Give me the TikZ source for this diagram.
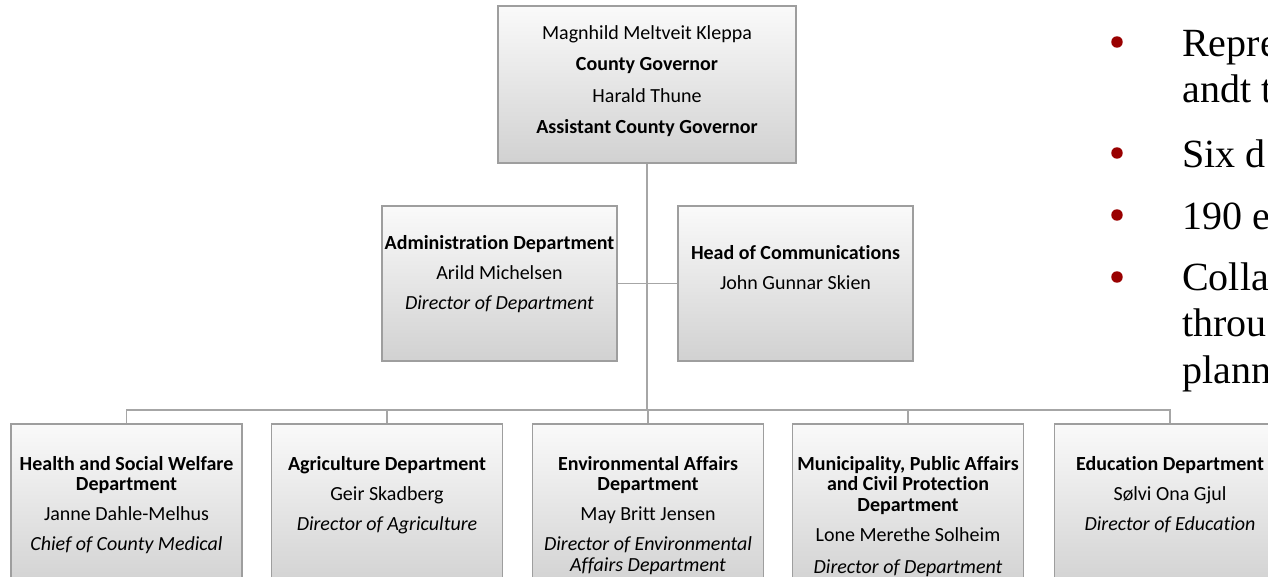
\documentclass[tikz,border=0pt]{standalone}
\usepackage{fontspec}
\setmainfont{Carlito}[Ligatures=NoCommon]
\newfontfamily\slidefont{Liberation Serif}
\definecolor{bulletred}{HTML}{990000}
\newlength{\pxu}
\setlength{\pxu}{0.75pt}
\tikzset{
  box/.style={rectangle, draw=black!38, line width=1.1pt,
    top color=black!2, bottom color=black!18, inner sep=0pt},
  link/.style={draw=black!35, line width=1.4pt},
  txt/.style={anchor=north, align=center, inner sep=0pt,
    font=\fontsize{15}{15.4}\selectfont},
  slide/.style={anchor=base west, inner sep=0pt,
    font=\slidefont\fontsize{30}{34.5}\selectfont}
}

\begin{document}
\begin{tikzpicture}[x=0.75pt, y=-0.75pt]
  \useasboundingbox (0,0) rectangle (1268,577);
  \clip (0,0) rectangle (1268,577);
  % boxes
  \node[box, minimum width=298\pxu, minimum height=157\pxu] at (647,84.5) (gov) {};
  \node[box, minimum width=235\pxu, minimum height=155\pxu] at (499.5,283.5) (admin) {};
  \node[box, minimum width=235\pxu, minimum height=155\pxu] at (795.5,283.5) (comm) {};
  \foreach \n/\x in {health/126.5, agri/387, env/648, muni/908, edu/1170}
    \node[box, minimum width=231\pxu, minimum height=165\pxu] at (\x,506.5) (\n) {};
  % lines
  \coordinate (bus) at (gov.south |- 0,410);
  \draw[link] (gov.south) -- (bus);
  \draw[link] (admin) -- (comm);
  \foreach \n in {health,agri,env,muni,edu}
    \draw[link] (bus) -| (\n.north);
  % texts
  \node[txt] at (647,25) (govtxt) {Magnhild Meltveit Kleppa\\[8.2pt]\textbf{County Governor}\\[8.2pt]Harald Thune\\[8.2pt]\textbf{Assistant County Governor}};
  \node[txt] at (499.5,235) (admintxt) {\textbf{Administration Department}\\[7.1pt]Arild Michelsen\\[7.1pt]\textit{Director of Department}};
  \node[txt] at (795.5,245) (commtxt) {\textbf{Head of Communications}\\[7.1pt]John Gunnar Skien};
  \node[txt] at (126.5,456) (healthtxt) {\textbf{Health and Social Welfare}\\\textbf{Department}\\[7.1pt]Janne Dahle-Melhus\\[7.1pt]\textit{Chief of County Medical}};
  \node[txt] at (387,456) (agritxt) {\textbf{Agriculture Department}\\[7.1pt]Geir Skadberg\\[7.1pt]\textit{Director of Agriculture}};
  \node[txt] at (648,456) (envtxt) {\textbf{Environmental Affairs}\\\textbf{Department}\\[7.1pt]May Britt Jensen\\[7.1pt]\textit{Director of Environmental}\\\textit{Affairs Department}};
  \node[txt] at (908,456) (munitxt) {\textbf{Municipality, Public Affairs}\\\textbf{and Civil Protection}\\\textbf{Department}\\[7.1pt]Lone Merethe Solheim\\[8.5pt]\textit{Director of Department}};
  \node[txt] at (1170,456) (edutxt) {\textbf{Education Department}\\[7.1pt]S\o lvi Ona Gjul\\[7.1pt]\textit{Director of Education}};
  % slide bullets
  \foreach \y in {42,153,215,277}
    \fill[bulletred] (1117,\y) circle (4.3pt);
  \foreach \y/\t in {57/Repre, 103/andt t, 168/Six d, 230/190 e, 291/Colla, 337/throu, 383/plann}
    \node[slide] at (1182,\y) (line\y) {\t};
\end{tikzpicture}
\end{document}
